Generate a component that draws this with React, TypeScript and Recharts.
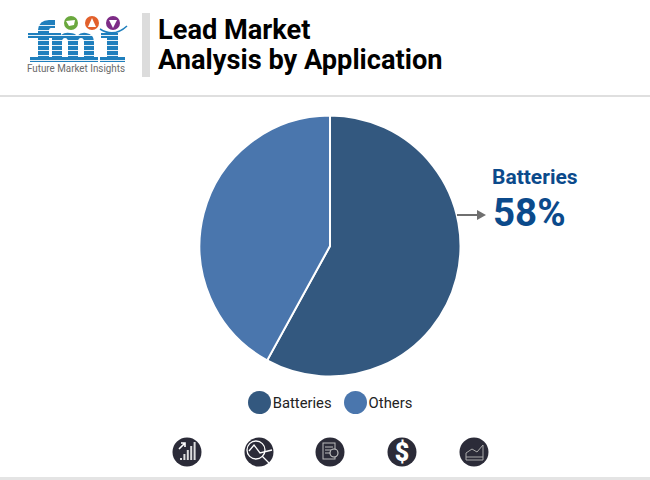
import React from "react";
import { PieChart, Pie, Cell, Legend } from "recharts";

const categories = ["Batteries", "Others"];
const shares = [58, 42];
const colors = ["#33587f", "#4a76ad"];
const titleLines = ["Lead Market", "Analysis by Application"];
const calloutName = "Batteries";
const calloutValue = "58%";
const brandName = "Future Market Insights";

const data = categories.map((name, i) => ({ name, value: shares[i] }));
const font = "Roboto, sans-serif";
const dark = "#2b2b38";
const blue = "#1f7fbd";

const LegendContent = () => (
  <div style={{ display: "flex", justifyContent: "center", alignItems: "center", fontFamily: font, fontSize: 14.8, color: "#222", width: 650, paddingLeft: 10, boxSizing: "border-box" }}>
    {data.map((d, i) => (
      <div key={d.name} style={{ display: "flex", alignItems: "center", marginLeft: i ? 12 : 0 }}>
        <span style={{ width: 23, height: 23, borderRadius: 12, background: colors[i], display: "inline-block", marginRight: 2 }} />
        <span>{d.name}</span>
      </div>
    ))}
  </div>
);

const Logo = () => (
  <g>
    <path d="M28 33 H38 V30 Q39 20 49 20 H55 V28 H51 Q49 28 49 31 V33 H56 V38 H49 V57 H54 V62 H30 V57 H38 V38 H28 Z" fill={blue} />
    <path d="M49 33 H61 V35 Q65 32 70 33 Q75 33 77 36 Q81 32 86 33 Q94 34 94 42 V57 H98 V62 H80 V57 H84 V42 Q84 38 81 38 Q78 38 78 42 V57 H81 V62 H64 V57 H68 V42 Q68 38 65 38 Q62 38 62 42 V57 H65 V62 H48 V57 H52 V38 H49 Z" fill={blue} />
    <path d="M101 33 H118 V57 H125 V62 H100 V57 H107 V38 H101 Z" fill={blue} />
    {[25, 30, 35, 40, 45, 50, 55, 60].map((y) => (
      <rect key={y} x={24} y={y} width={106} height={0.9} fill="#fff" />
    ))}
    <circle cx={71} cy={23} r={7} fill="#6aa83e" />
    <circle cx={92} cy={23} r={7} fill="#e2602b" />
    <circle cx={113} cy={23} r={7} fill="#7d2c86" />
    <path d="M66 21 L75 20 L74 25 L69 26 Z" fill="#fff" />
    <path d="M92 18 L96 27 L88 27 Z" fill="#fff" />
    <path d="M109 20 L117 20 L113 28 Z" fill="#fff" />
    <path d="M100 29 Q114 38 127 26" fill="none" stroke={blue} strokeWidth={1.5} />
    <text x={27} y={72} fontFamily={font} fontSize={10.2} fill="#6a6a6a" textLength={98} lengthAdjust="spacingAndGlyphs">{brandName}</text>
  </g>
);

const Icons = () => {
  const xs = [187, 259, 330, 402, 474];
  const cy = 452;
  return (
    <g>
      {xs.map((x) => (
        <circle key={x} cx={x} cy={cy} r={14.5} fill={dark} />
      ))}
      {[0, 1, 2, 3, 4].map((i) => (
        <rect key={i} x={180 + i * 3.4} y={458 - i * 4} width={2} height={2 + i * 4} fill="#ddd" />
      ))}
      <path d="M179 449 L185 443 M181 443 L185 443 L185 447" stroke="#fff" strokeWidth={1.6} fill="none" />
      <circle cx={256} cy={450} r={9} fill="none" stroke="#fff" strokeWidth={1.3} />
      <path d="M249 451 L254 445 L260 453 L272 450 M262 456 L269 463" stroke="#fff" strokeWidth={1.3} fill="none" />
      <rect x={323} y={443} width={12} height={16} fill="none" stroke="#bbb" strokeWidth={1} />
      <path d="M325 447 H333 M325 450 H331 M325 453 H330" stroke="#bbb" strokeWidth={1} />
      <circle cx={334} cy={453} r={4} fill={dark} stroke="#ccc" strokeWidth={1.1} />
      <text x={402} y={461} textAnchor="middle" fontFamily={font} fontWeight={900} fontSize={25} fill="#fff">$</text>
      <path d="M466 460 V453 L472 449 L477 452 L483 445 V460 Z" fill="none" stroke="#aaa" strokeWidth={1} />
      <path d="M466 457 H483" stroke="#aaa" strokeWidth={1} />
    </g>
  );
};

export default function App() {
  return (
    <div style={{ position: "absolute", left: 0, top: 0, width: 650, height: 480, background: "#fff", overflow: "hidden" }}>
      <div style={{ position: "absolute", left: 0, top: 0 }}>
        <PieChart width={650} height={480} margin={{ top: 0, right: 0, bottom: 0, left: 0 }}>
          <Pie
            data={data}
            dataKey="value"
            nameKey="name"
            cx={330}
            cy={246}
            outerRadius={130.5}
            startAngle={90}
            endAngle={-270}
            stroke="#fff"
            strokeWidth={2}
            isAnimationActive={false}
          >
            {data.map((d, i) => (
              <Cell key={d.name} fill={colors[i]} />
            ))}
          </Pie>
          <Legend content={<LegendContent />} layout="horizontal" verticalAlign="bottom" wrapperStyle={{ position: "absolute", top: 391, bottom: "auto", left: 0, width: 650 }} />
        </PieChart>
      </div>
      <svg width={650} height={480} style={{ position: "absolute", left: 0, top: 0, pointerEvents: "none" }}>
        <Logo />
        <rect x={142} y={13} width={8} height={64} fill="#dcdcdc" />
        <text fontFamily={font} fontWeight={700} fontSize={27.2} fill="#000">
          <tspan x={158} y={39}>{titleLines[0]}</tspan>
          <tspan x={158} y={69}>{titleLines[1]}</tspan>
        </text>
        <rect x={0} y={95} width={650} height={2} fill="#dfdfdf" />
        <rect x={0} y={477} width={650} height={3} fill="#e4e4e4" />
        <text x={492} y={184} fontFamily={font} fontWeight={700} fontSize={21} fill="#0b4a8b">{calloutName}</text>
        <text x={493} y={226} fontFamily={font} fontWeight={700} fontSize={38.5} fill="#0b4a8b">{calloutValue}</text>
        <path d="M457 215 H478" stroke="#6f6f6f" strokeWidth={2} />
        <path d="M477 210 L486 215 L477 220 Z" fill="#6f6f6f" />
        <Icons />
      </svg>
    </div>
  );
}
